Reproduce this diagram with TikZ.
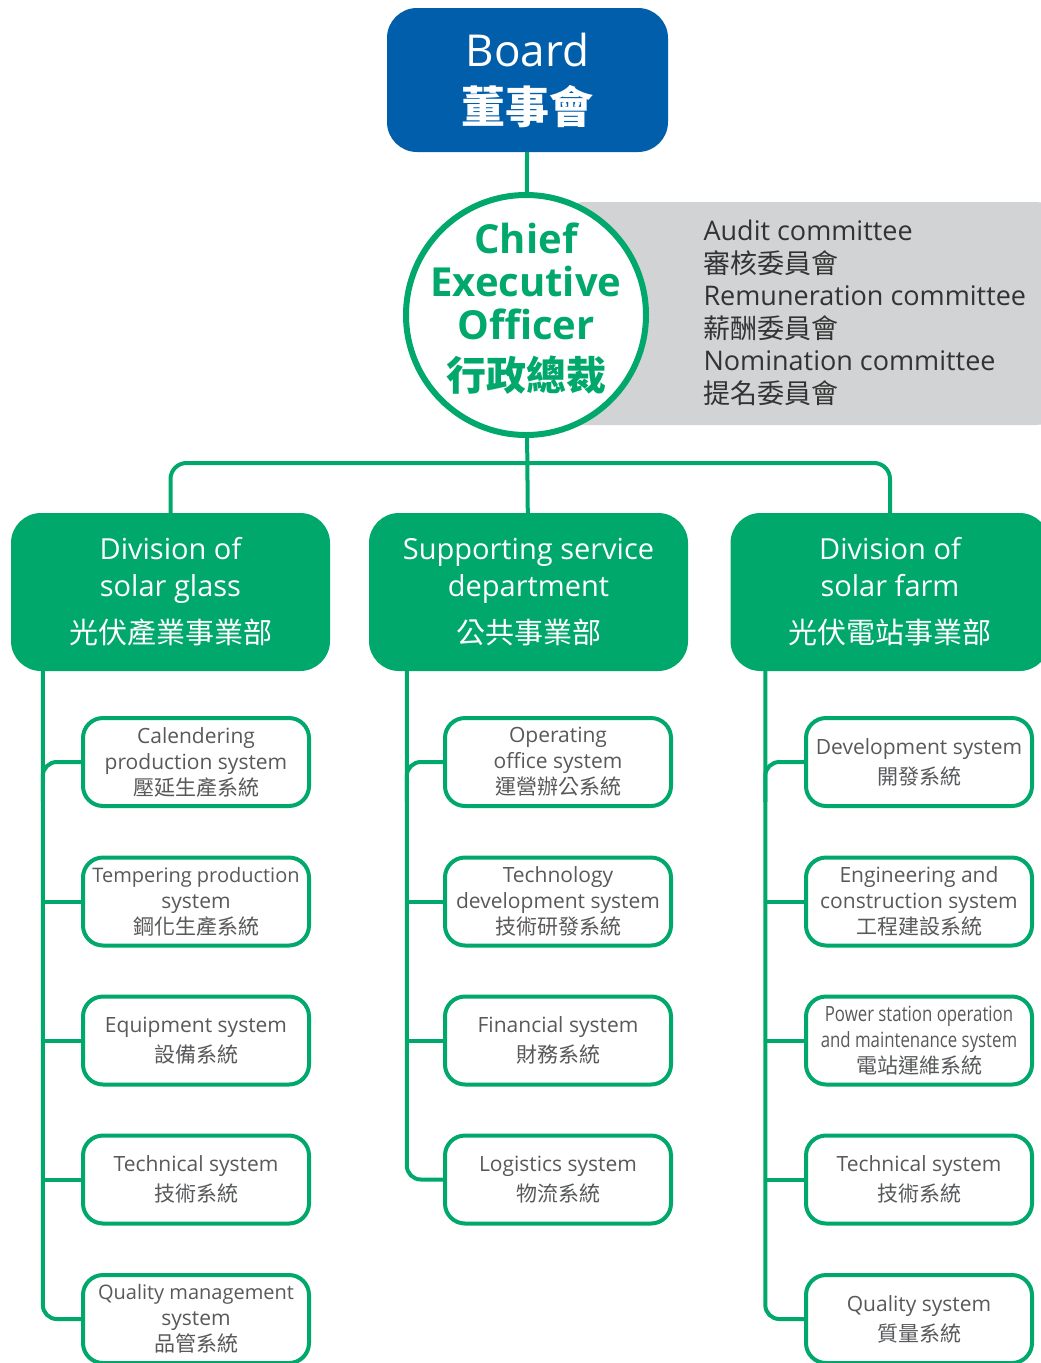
\documentclass[tikz,border=0pt]{standalone}
\usepackage{fontspec}
\setmainfont{Open Sans}
\newfontfamily\cjk{Noto Sans CJK TC}
\newfontfamily\narrowsans[FakeStretch=0.8]{Open Sans}
\usetikzlibrary{calc}
\definecolor{boardblue}{RGB}{0,94,171}
\definecolor{orggreen}{RGB}{0,168,107}
\definecolor{commgray}{RGB}{209,211,212}
\definecolor{textgray}{RGB}{88,89,91}

\begin{document}
\begin{tikzpicture}[x=1pt,y=-1pt]
  %%Styles for the boxes and the lines
  \tikzset{board box/.style={rounded corners=30pt,fill=boardblue,text=white,minimum width=281pt,minimum height=144pt,align=center,inner sep=0pt,font=\fontsize{44}{55}\selectfont}}
  \tikzset{ceo circle/.style={circle,draw=orggreen,line width=6pt,fill=white,minimum size=240pt,inner sep=0pt,text=orggreen,font=\fontsize{40}{41}\selectfont\bfseries}}
  \tikzset{comm box/.style={rounded corners=24pt,fill=commgray,minimum width=500pt,minimum height=223pt,inner sep=0pt}}
  \tikzset{division box/.style={rounded corners=30pt,fill=orggreen,text=white,minimum width=319pt,minimum height=158pt,align=center,inner sep=0pt,font=\fontsize{29}{37}\selectfont}}
  \tikzset{system box/.style={rounded corners=20pt,draw=orggreen,line width=4pt,fill=white,minimum width=226pt,minimum height=88pt,align=center,inner sep=0pt,text=textgray,font=\fontsize{21}{26}\selectfont}}
  \tikzset{link/.style={draw=orggreen,line width=4pt}}
  \useasboundingbox (0,0) rectangle (1041,1363);
  %%Top of the chart
  \node[board box] (board) at (527.5,80) {Board\\[2pt]{\cjk\bfseries 董事會}};
  \node[comm box] (comm) at (810,313.5) {};
  \node[ceo circle] (ceo) at (526,315)
    {\raisebox{-4pt}[0pt][0pt]{\begin{tabular}{@{}c@{}}Chief\\Executive\\Officer\\[4pt]{\cjk 行政總裁}\end{tabular}}};
  \node[anchor=west,align=left,text=black!80,font=\fontsize{27}{32.5}\selectfont] (commtext) at (700,313)
    {Audit committee\\{\cjk 審核委員會}\\Remuneration committee\\{\cjk 薪酬委員會}\\Nomination committee\\{\cjk 提名委員會}};
  %%Divisions
  \node[division box] (gl) at (170.5,592) {Division of\\solar glass\\[10pt]{\cjk 光伏產業事業部}};
  \node[division box] (gm) at (528.5,592) {Supporting service\\department\\[10pt]{\cjk 公共事業部}};
  \node[division box] (gr) at (890,592) {Division of\\solar farm\\[10pt]{\cjk 光伏電站事業部}};
  %%Systems under each division
  \foreach \nm/\yy/\txt in {l1/762/{Calendering\\production system\\{\cjk 壓延生產系統}},
      l2/901.5/{{\fontsize{20}{26}\selectfont Tempering production}\\system\\{\cjk 鋼化生產系統}},
      l3/1040.5/{Equipment system\\[4pt]{\cjk 設備系統}},
      l4/1179.5/{Technical system\\[4pt]{\cjk 技術系統}},
      l5/1319/{{\fontsize{20}{26}\selectfont Quality management}\\system\\{\cjk 品管系統}}}{
    \node[system box] (\nm) at (196,\yy) {\txt};
  }
  \foreach \nm/\yy/\txt in {m1/762/{Operating\\office system\\{\cjk 運營辦公系統}},
      m2/901.5/{Technology\\development system\\{\cjk 技術研發系統}},
      m3/1040.5/{Financial system\\[4pt]{\cjk 財務系統}},
      m4/1179.5/{Logistics system\\[4pt]{\cjk 物流系統}}}{
    \node[system box] (\nm) at (558,\yy) {\txt};
  }
  \foreach \nm/\yy/\txt in {r1/762/{Development system\\[4pt]{\cjk 開發系統}},
      r2/901.5/{Engineering and\\construction system\\{\cjk 工程建設系統}},
      r3/1040.5/{{\narrowsans\fontsize{21}{26}\selectfont Power station operation}\\{\narrowsans\fontsize{21}{26}\selectfont and maintenance system}\\{\cjk 電站運維系統}},
      r4/1179.5/{Technical system\\[4pt]{\cjk 技術系統}},
      r5/1319/{Quality system\\[4pt]{\cjk 質量系統}}}{
    \node[system box] (\nm) at (919,\yy) {\txt};
  }
  %%Spine coordinates below the divisions
  \coordinate (spL) at ([xshift=32pt]gl.south west);
  \coordinate (spM) at ([xshift=38pt]gm.south west);
  \coordinate (spR) at ([xshift=35pt]gr.south west);
  \coordinate (bus) at (528,463);
  %%Drawing the lines
  \path[link] (board) -- (ceo);
  \path[link] (ceo) -- (gm);
  \path[link,rounded corners=16pt] (gl.north) |- (bus) -| (gr.north);
  \path[link,rounded corners=14pt] (spL) |- (l5.west);
  \path[link,rounded corners=14pt] (spM) |- (m4.west);
  \path[link,rounded corners=14pt] (spR) |- (r5.west);
  \path[link,rounded corners=14pt] (l1.west) -| ($(l1.west -| spL)+(0,40)$);
  \path[link,rounded corners=14pt] (m1.west) -| ($(m1.west -| spM)+(0,40)$);
  \path[link,rounded corners=14pt] (r1.west) -| ($(r1.west -| spR)+(0,40)$);
  \foreach \c in {l2,l3,l4}{\path[link] (\c.west) -- (\c.west -| spL);}
  \foreach \c in {m2,m3}{\path[link] (\c.west) -- (\c.west -| spM);}
  \foreach \c in {r2,r3,r4}{\path[link] (\c.west) -- (\c.west -| spR);}
\end{tikzpicture}
\end{document}
